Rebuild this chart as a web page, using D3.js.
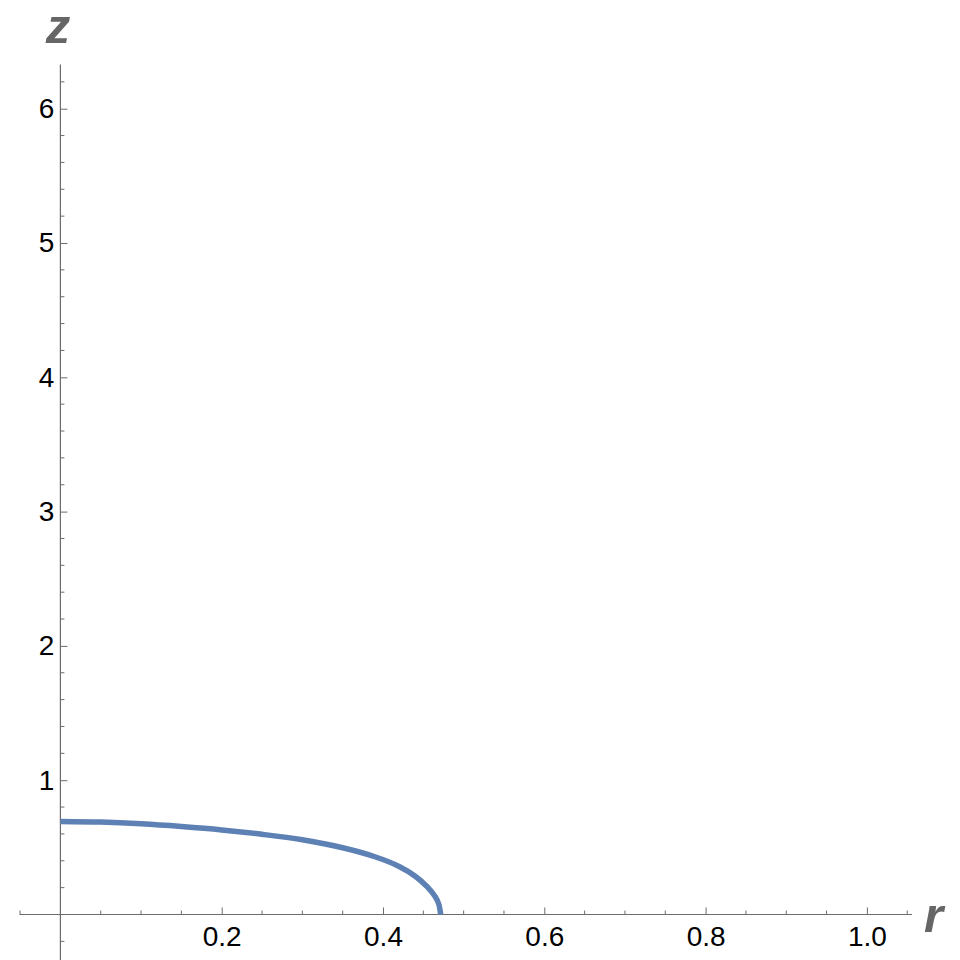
<!DOCTYPE html>
<html>
<head>
<meta charset="utf-8">
<script src="https://cdn.jsdelivr.net/npm/d3@7.9.0/dist/d3.min.js"></script>
<style>
  html, body { margin: 0; padding: 0; background: #fff; }
  svg { display: block; }
  .tick text { font-family: "Liberation Sans", Arial, sans-serif; font-size: 28px; fill: #000; }
  .axis-title { font-family: "Liberation Sans", Arial, sans-serif; font-weight: bold; font-style: italic; fill: #666; }
</style>
</head>
<body>
<svg id="chart" width="960" height="960"></svg>
<script>
// curve
const rValues = [0, 0.05, 0.10, 0.15, 0.20, 0.25, 0.30, 0.35, 0.39, 0.42, 0.44, 0.455, 0.465, 0.469, 0.4715];
const zValues = [0.693, 0.688, 0.675, 0.655, 0.630, 0.597, 0.556, 0.497, 0.430, 0.358, 0.285, 0.205, 0.130, 0.080, 0];

const rTicks = [0.2, 0.4, 0.6, 0.8, 1.0];
const rTickLabels = ["0.2", "0.4", "0.6", "0.8", "1.0"];
const rMinor = [-0.05, 0.05, 0.1, 0.15, 0.25, 0.3, 0.35, 0.45, 0.5, 0.55, 0.65, 0.7, 0.75, 0.85, 0.9, 0.95, 1.05];
const zTicks = [1, 2, 3, 4, 5, 6];
const zMinor = [-0.2, 0.2, 0.4, 0.6, 0.8, 1.2, 1.4, 1.6, 1.8, 2.2, 2.4, 2.6, 2.8, 3.2, 3.4, 3.6, 3.8,
                4.2, 4.4, 4.6, 4.8, 5.2, 5.4, 5.6, 5.8, 6.2];
const rRange = [-0.0505, 1.056];
const zRange = [-0.34, 6.33];

const axisColor = "#6b6b6b";
const lineColor = "#5e81b5";

const svg = d3.select("#chart");

const x = d3.scaleLinear().domain([0, 1]).range([60.4, 866.9]);
const y = d3.scaleLinear().domain([0, 6]).range([914.5, 108.7]);

// axis lines
svg.append("line")
  .attr("x1", x(rRange[0])).attr("x2", x(rRange[1]))
  .attr("y1", y(0)).attr("y2", y(0))
  .attr("stroke", axisColor).attr("stroke-width", 1.2);

svg.append("line")
  .attr("x1", x(0)).attr("x2", x(0))
  .attr("y1", y(zRange[0])).attr("y2", y(zRange[1]))
  .attr("stroke", axisColor).attr("stroke-width", 1.2);

// minor ticks
svg.append("g").selectAll("line")
  .data(rMinor).join("line")
  .attr("x1", d => x(d)).attr("x2", d => x(d))
  .attr("y1", y(0)).attr("y2", y(0) - 4)
  .attr("stroke", axisColor).attr("stroke-width", 1);

svg.append("g").selectAll("line")
  .data(zMinor).join("line")
  .attr("x1", x(0)).attr("x2", x(0) + 4)
  .attr("y1", d => y(d)).attr("y2", d => y(d))
  .attr("stroke", axisColor).attr("stroke-width", 1);

// major ticks + labels
const xAxis = svg.append("g")
  .attr("transform", `translate(0,${y(0)})`)
  .call(d3.axisBottom(x).tickValues(rTicks)
    .tickFormat((d, i) => rTickLabels[i])
    .tickSize(-7).tickPadding(12));

const yAxis = svg.append("g")
  .attr("transform", `translate(${x(0)},0)`)
  .call(d3.axisLeft(y).tickValues(zTicks)
    .tickFormat(d3.format("d"))
    .tickSize(-7).tickPadding(6));

[xAxis, yAxis].forEach(g => {
  g.select(".domain").remove();
  g.selectAll(".tick line").attr("stroke", axisColor).attr("stroke-width", 1);
  g.attr("font-family", null).attr("font-size", null);
});

// axis titles
svg.append("text").attr("class", "axis-title")
  .attr("x", 58).attr("y", 43)
  .attr("text-anchor", "middle")
  .attr("font-size", 49)
  .text("z");

svg.append("text").attr("class", "axis-title")
  .attr("x", 924).attr("y", 932)
  .attr("font-size", 49)
  .text("r");

// the curve
const pts = rValues.map((r, i) => [r, zValues[i]]);
svg.append("path")
  .datum(pts)
  .attr("fill", "none")
  .attr("stroke", lineColor)
  .attr("stroke-width", 5.5)
  .attr("d", d3.line()
    .x(d => x(d[0]))
    .y(d => y(d[1]))
    .curve(d3.curveCatmullRom.alpha(0.5)));
</script>
</body>
</html>
